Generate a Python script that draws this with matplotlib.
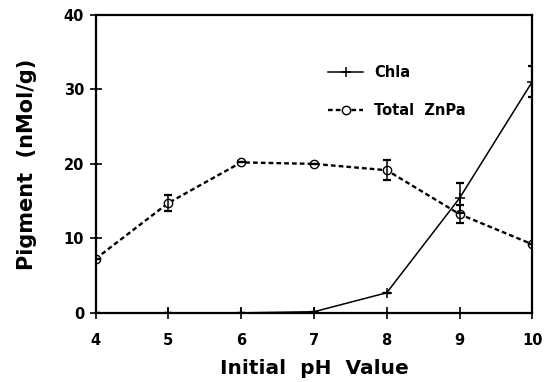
import numpy as np
import matplotlib.pyplot as plt

# ------------------------------
# Data
# ------------------------------
ph = [4, 5, 6, 7, 8, 9, 10]
chla = [0.0, 0.0, 0.0, 0.15, 2.7, 15.4, 31.05]
chla_err = [0.0, 0.0, 0.0, 0.0, 0.0, 2.0, 2.1]
znpa = [7.25, 14.75, 20.2, 20.0, 19.15, 13.25, 9.2]
znpa_err = [0.0, 1.05, 0.0, 0.0, 1.35, 1.2, 0.0]

x_ticks = [4, 5, 6, 7, 8, 9, 10]
y_ticks = [0, 10, 20, 30, 40]

plt.rcParams['font.family'] = ['DejaVu Sans']
plt.rcParams['font.weight'] = 'bold'

fig = plt.figure(figsize=(5.46, 3.82), dpi=100)
ax = fig.add_axes([0.175, 0.181, 0.80, 0.780])

dash = (0, (2.0, 1.3))

# lines (used for the legend)
l1, = ax.plot(ph, chla, color='black', lw=1.1, marker='+', markersize=7,
              mew=1.1, label='Chla')
l2, = ax.plot(ph, znpa, color='black', lw=1.7, linestyle=dash, marker='o',
              markersize=6, mfc='white', mew=1.0, label='Total  ZnPa')

# error bars
ax.errorbar(ph, chla, yerr=chla_err, fmt='none', ecolor='black',
            elinewidth=1.1, capsize=2.8, capthick=1.6)
ax.errorbar(ph, znpa, yerr=znpa_err, fmt='none', ecolor='black',
            elinewidth=1.1, capsize=2.8, capthick=1.6)

ax.set_xlim(4, 10)
ax.set_ylim(0, 40)
ax.set_xticks(x_ticks)
ax.set_yticks(y_ticks)
ax.tick_params(direction='inout', length=8.5, width=1.2, labelsize=10.5)
ax.tick_params(axis='x', pad=10)
ax.tick_params(axis='y', pad=4)
for s in ax.spines.values():
    s.set_linewidth(1.6)

ax.set_xlabel('Initial  pH  Value', fontsize=14.5, fontweight='bold', labelpad=8)
ax.set_ylabel('Pigment  (nMol/g)', fontsize=15, fontweight='bold', labelpad=19)

ax.legend(handles=[l1, l2], loc='center left', bbox_to_anchor=(0.533, 0.743),
          frameon=False, fontsize=10.5, handlelength=2.4, labelspacing=1.6,
          handletextpad=0.75, borderpad=0, borderaxespad=0)

fig.savefig('out.png', dpi=100)
